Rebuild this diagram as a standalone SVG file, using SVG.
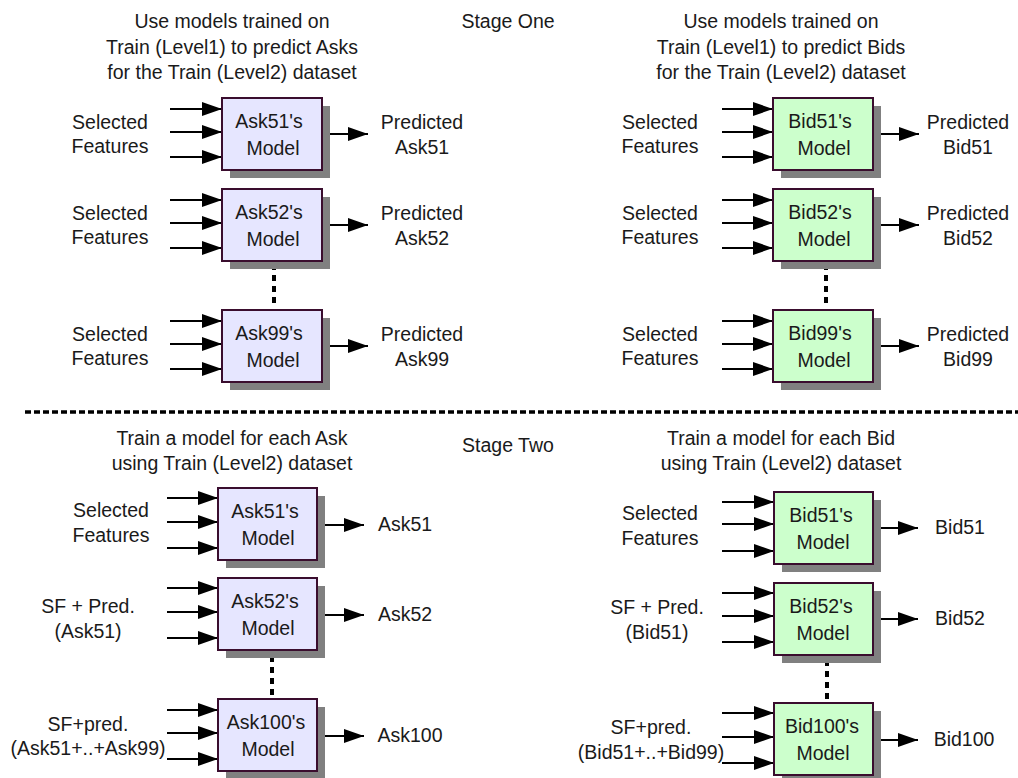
<svg xmlns="http://www.w3.org/2000/svg" width="1018" height="778" viewBox="0 0 1018 778">
<style>
text{font-family:"Liberation Sans",Arial,sans-serif;font-size:19.5px;fill:#1a1a1a;text-anchor:middle}
.shadow{fill:#808080}
.ask{fill:#e6e6ff;stroke:#3a0d2e;stroke-width:2}
.bid{fill:#ccffcc;stroke:#3a0d2e;stroke-width:2}
.ln{stroke:#000;stroke-width:2;fill:none;marker-end:url(#ah)}
.vd{stroke:#000;stroke-width:4;stroke-dasharray:6 5;fill:none}
.hd{stroke:#000;stroke-width:3.5;stroke-dasharray:6 3;fill:none}
</style>
<defs>
<marker id="ah" markerUnits="userSpaceOnUse" markerWidth="20" markerHeight="14" refX="20" refY="7" orient="auto">
<path d="M0,0 L20,7 L0,14 z" fill="#000"/>
</marker>
</defs>
<rect width="1018" height="778" fill="#fff"/>

<g id="titles">
<text x="508" y="28">Stage One</text>
<text x="508" y="452">Stage Two</text>
<text x="232" y="28">Use models trained on</text>
<text x="232" y="54">Train (Level1) to predict Asks</text>
<text x="232" y="79">for the Train (Level2) dataset</text>
<text x="781" y="28">Use models trained on</text>
<text x="781" y="54">Train (Level1) to predict Bids</text>
<text x="781" y="79">for the Train (Level2) dataset</text>
<text x="232" y="445">Train a model for each Ask</text>
<text x="232" y="470">using Train (Level2) dataset</text>
<text x="781" y="445">Train a model for each Bid</text>
<text x="781" y="470">using Train (Level2) dataset</text>
</g>

<g id="connectors">
<line class="ln" x1="170" y1="109" x2="222" y2="109"/><line class="ln" x1="170" y1="132" x2="222" y2="132"/><line class="ln" x1="170" y1="157" x2="222" y2="157"/>
<line class="ln" x1="322" y1="134" x2="368" y2="134"/>
<line class="ln" x1="170" y1="200" x2="222" y2="200"/><line class="ln" x1="170" y1="223" x2="222" y2="223"/><line class="ln" x1="170" y1="248" x2="222" y2="248"/>
<line class="ln" x1="322" y1="225" x2="368" y2="225"/>
<line class="ln" x1="170" y1="321" x2="222" y2="321"/><line class="ln" x1="170" y1="344" x2="222" y2="344"/><line class="ln" x1="170" y1="369" x2="222" y2="369"/>
<line class="ln" x1="322" y1="346" x2="368" y2="346"/>
<line class="vd" x1="274" y1="264" x2="274" y2="306"/>
<line class="ln" x1="722" y1="109" x2="773" y2="109"/><line class="ln" x1="722" y1="132" x2="773" y2="132"/><line class="ln" x1="722" y1="157" x2="773" y2="157"/>
<line class="ln" x1="873" y1="134" x2="919" y2="134"/>
<line class="ln" x1="722" y1="200" x2="773" y2="200"/><line class="ln" x1="722" y1="223" x2="773" y2="223"/><line class="ln" x1="722" y1="248" x2="773" y2="248"/>
<line class="ln" x1="873" y1="225" x2="919" y2="225"/>
<line class="ln" x1="722" y1="321" x2="773" y2="321"/><line class="ln" x1="722" y1="344" x2="773" y2="344"/><line class="ln" x1="722" y1="369" x2="773" y2="369"/>
<line class="ln" x1="873" y1="346" x2="919" y2="346"/>
<line class="vd" x1="826" y1="264" x2="826" y2="306"/>
<line class="hd" x1="25" y1="412" x2="1018" y2="412"/>
<line class="ln" x1="167" y1="498" x2="218" y2="498"/><line class="ln" x1="167" y1="522" x2="218" y2="522"/><line class="ln" x1="167" y1="548" x2="218" y2="548"/>
<line class="ln" x1="317" y1="525" x2="364" y2="525"/>
<line class="ln" x1="167" y1="588" x2="218" y2="588"/><line class="ln" x1="167" y1="612" x2="218" y2="612"/><line class="ln" x1="167" y1="638" x2="218" y2="638"/>
<line class="ln" x1="317" y1="615" x2="364" y2="615"/>
<line class="ln" x1="167" y1="710" x2="218" y2="710"/><line class="ln" x1="167" y1="733" x2="218" y2="733"/><line class="ln" x1="167" y1="759" x2="218" y2="759"/>
<line class="ln" x1="317" y1="736" x2="364" y2="736"/>
<line class="vd" x1="272" y1="656" x2="272" y2="696"/>
<line class="ln" x1="722" y1="502" x2="774" y2="502"/><line class="ln" x1="722" y1="524" x2="774" y2="524"/><line class="ln" x1="722" y1="551" x2="774" y2="551"/>
<line class="ln" x1="873" y1="528" x2="918" y2="528"/>
<line class="ln" x1="722" y1="593" x2="774" y2="593"/><line class="ln" x1="722" y1="616" x2="774" y2="616"/><line class="ln" x1="722" y1="642" x2="774" y2="642"/>
<line class="ln" x1="873" y1="619" x2="918" y2="619"/>
<line class="ln" x1="722" y1="713" x2="774" y2="713"/><line class="ln" x1="722" y1="737" x2="774" y2="737"/><line class="ln" x1="722" y1="763" x2="774" y2="763"/>
<line class="ln" x1="873" y1="740" x2="918" y2="740"/>
<line class="vd" x1="827" y1="660" x2="827" y2="700"/>
</g>

<g id="ask51-s1"><rect class="shadow" x="230" y="106" width="100" height="72"/><rect class="ask" x="222" y="98" width="100" height="72"/><text x="269" y="128">Ask51's</text><text x="273" y="155">Model</text></g>
<g id="ask52-s1"><rect class="shadow" x="230" y="197" width="100" height="72"/><rect class="ask" x="222" y="189" width="100" height="72"/><text x="269" y="219">Ask52's</text><text x="273" y="246">Model</text></g>
<g id="ask99-s1"><rect class="shadow" x="230" y="318" width="100" height="72"/><rect class="ask" x="222" y="310" width="100" height="72"/><text x="269" y="340">Ask99's</text><text x="273" y="367">Model</text></g>
<g id="bid51-s1"><rect class="shadow" x="781" y="106" width="100" height="72"/><rect class="bid" x="773" y="98" width="100" height="72"/><text x="820" y="128">Bid51's</text><text x="824" y="155">Model</text></g>
<g id="bid52-s1"><rect class="shadow" x="781" y="197" width="100" height="72"/><rect class="bid" x="773" y="189" width="100" height="72"/><text x="820" y="219">Bid52's</text><text x="824" y="246">Model</text></g>
<g id="bid99-s1"><rect class="shadow" x="781" y="318" width="100" height="72"/><rect class="bid" x="773" y="310" width="100" height="72"/><text x="820" y="340">Bid99's</text><text x="824" y="367">Model</text></g>

<g id="ask51-s2"><rect class="shadow" x="226" y="496" width="99" height="72"/><rect class="ask" x="218" y="488" width="99" height="72"/><text x="265" y="518">Ask51's</text><text x="268" y="545">Model</text></g>
<g id="ask52-s2"><rect class="shadow" x="226" y="586" width="99" height="72"/><rect class="ask" x="218" y="578" width="99" height="72"/><text x="265" y="608">Ask52's</text><text x="268" y="635">Model</text></g>
<g id="ask100-s2"><rect class="shadow" x="226" y="707" width="99" height="72"/><rect class="ask" x="218" y="699" width="99" height="72"/><text x="266" y="729">Ask100's</text><text x="268" y="756">Model</text></g>
<g id="bid51-s2"><rect class="shadow" x="782" y="500" width="99" height="72"/><rect class="bid" x="774" y="492" width="99" height="72"/><text x="821" y="522">Bid51's</text><text x="823" y="549">Model</text></g>
<g id="bid52-s2"><rect class="shadow" x="782" y="591" width="99" height="72"/><rect class="bid" x="774" y="583" width="99" height="72"/><text x="821" y="613">Bid52's</text><text x="823" y="640">Model</text></g>
<g id="bid100-s2"><rect class="shadow" x="782" y="711" width="99" height="72"/><rect class="bid" x="774" y="703" width="99" height="72"/><text x="822" y="733">Bid100's</text><text x="823" y="760">Model</text></g>

<g id="labels-s1">
<text x="110" y="129">Selected</text><text x="110" y="153">Features</text>
<text x="110" y="220">Selected</text><text x="110" y="244">Features</text>
<text x="110" y="341">Selected</text><text x="110" y="365">Features</text>
<text x="422" y="129">Predicted</text><text x="422" y="154">Ask51</text>
<text x="422" y="220">Predicted</text><text x="422" y="245">Ask52</text>
<text x="422" y="341">Predicted</text><text x="422" y="366">Ask99</text>
<text x="660" y="129">Selected</text><text x="660" y="153">Features</text>
<text x="660" y="220">Selected</text><text x="660" y="244">Features</text>
<text x="660" y="341">Selected</text><text x="660" y="365">Features</text>
<text x="968" y="129">Predicted</text><text x="968" y="154">Bid51</text>
<text x="968" y="220">Predicted</text><text x="968" y="245">Bid52</text>
<text x="968" y="341">Predicted</text><text x="968" y="366">Bid99</text>
</g>
<g id="labels-s2">
<text x="111" y="517">Selected</text><text x="111" y="542">Features</text>
<text x="88" y="613">SF + Pred.</text><text x="88" y="638">(Ask51)</text>
<text x="88" y="731">SF+pred.</text><text x="88" y="755">(Ask51+..+Ask99)</text>
<text x="405" y="531">Ask51</text>
<text x="405" y="621">Ask52</text>
<text x="410" y="742">Ask100</text>
<text x="660" y="520">Selected</text><text x="660" y="545">Features</text>
<text x="657" y="614">SF + Pred.</text><text x="657" y="639">(Bid51)</text>
<text x="651" y="734">SF+pred.</text><text x="651" y="759">(Bid51+..+Bid99)</text>
<text x="960" y="534">Bid51</text>
<text x="960" y="625">Bid52</text>
<text x="964" y="746">Bid100</text>
</g>
</svg>
